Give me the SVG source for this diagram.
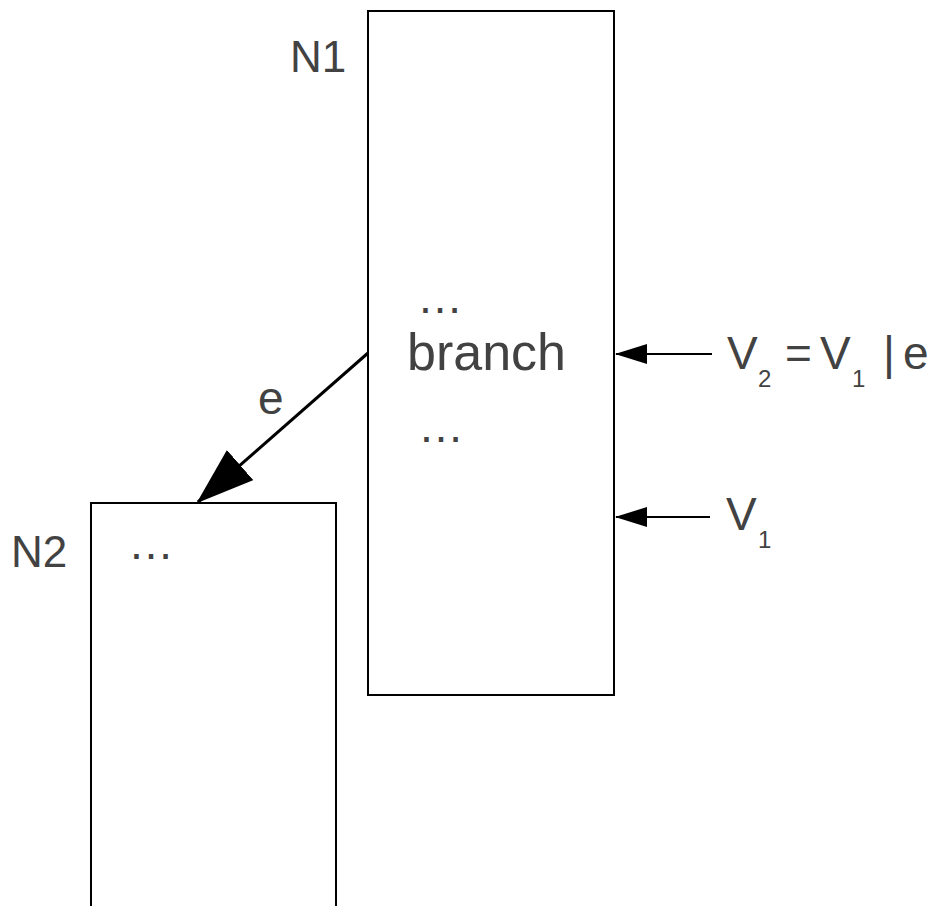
<svg xmlns="http://www.w3.org/2000/svg" width="936" height="906" viewBox="0 0 936 906">
<style>
.box{fill:#fff;stroke:#000;stroke-width:2}
.t{font-family:"Liberation Sans",Arial,sans-serif;fill:#424242}
.big{font-size:52px}
.dots{font-size:46px}
.lbl{font-size:44px}
.v{font-size:46px}
.sub{font-size:24px}
.edge{stroke:#000;fill:none}
</style>
<defs>
<marker id="ahBig" markerUnits="userSpaceOnUse" viewBox="0 0 58 40" refX="56" refY="20" markerWidth="58" markerHeight="40" orient="auto">
<path d="M0,0 L58,20 L0,40 Z" fill="#000"/>
</marker>
<marker id="ahSmall" markerUnits="userSpaceOnUse" viewBox="0 0 32 20" refX="31" refY="10" markerWidth="32" markerHeight="20" orient="auto">
<path d="M0,0 L32,10 L0,20 Z" fill="#000"/>
</marker>
</defs>
<rect x="0" y="0" width="936" height="906" fill="#fff"/>
<g id="N1">
<rect class="box" x="368" y="11" width="246" height="684"/>
<text class="t lbl" x="290" y="72">N1</text>
<text class="t dots" x="417" y="313">…</text>
<text class="t big" x="407" y="370">branch</text>
<text class="t dots" x="418" y="442">…</text>
</g>
<g id="N2">
<rect class="box" x="91" y="503" width="245" height="420"/>
<text class="t lbl" x="11" y="567">N2</text>
<text class="t dots" x="128" y="559">…</text>
</g>
<g id="connectors">
<line class="edge" x1="368" y1="353" x2="198" y2="502" stroke-width="3" marker-end="url(#ahBig)"/>
<line class="edge" x1="712" y1="354" x2="616" y2="354" stroke-width="2" marker-end="url(#ahSmall)"/>
<line class="edge" x1="710" y1="517" x2="616" y2="517" stroke-width="2" marker-end="url(#ahSmall)"/>
</g>
<g id="labels">
<text class="t v" x="258" y="414">e</text>
<text class="t v" y="369"><tspan x="727">V</tspan><tspan class="sub" x="758" y="387">2</tspan><tspan x="785" y="369">=</tspan><tspan x="820">V</tspan><tspan class="sub" x="852" y="387">1</tspan><tspan x="883" y="369">|</tspan><tspan x="903">e</tspan></text>
<text class="t v" y="530"><tspan x="726">V</tspan><tspan class="sub" x="758" y="548">1</tspan></text>
</g>
</svg>
